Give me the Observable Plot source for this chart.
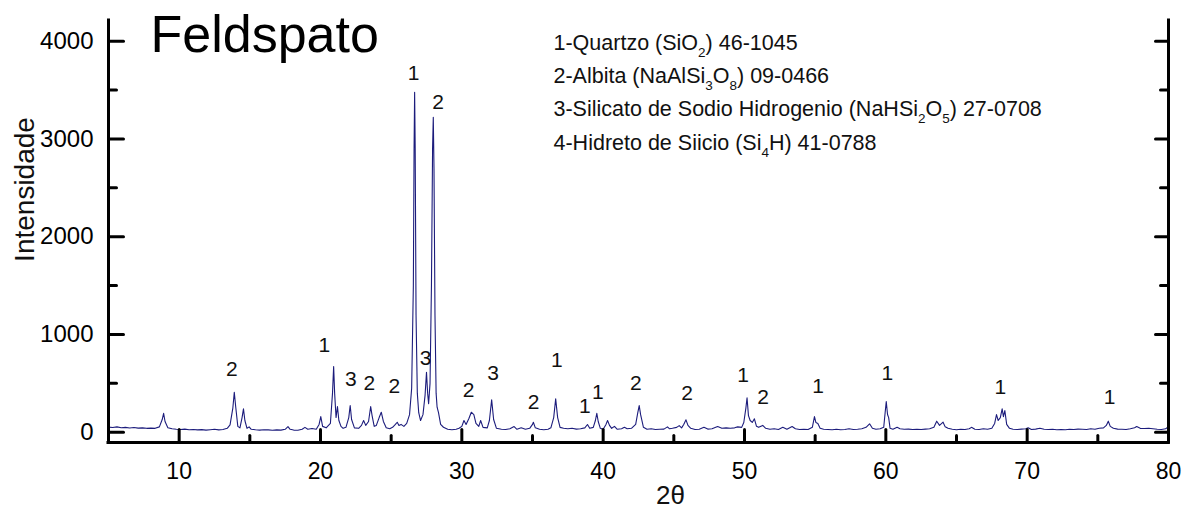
<!DOCTYPE html>
<html><head><meta charset="utf-8">
<script src="https://cdn.jsdelivr.net/npm/d3@7"></script>
<script src="https://cdn.jsdelivr.net/npm/@observablehq/plot@0.6"></script>
<style>html,body{margin:0;padding:0;background:#fff;}#chart svg{display:block;}</style>
</head><body><div id="chart"></div>
<script>
// XRD scan: [2θ, intensity]
const scan = [
[5.0,52],[5.3,48],[5.6,55],[5.9,46],[6.2,50],[6.5,44],[6.8,48],[7.1,42],[7.4,45],[7.7,40],
[8.0,42],[8.3,40],[8.6,55],[8.8,130],[8.9,194],[9.0,110],[9.2,45],[9.5,35],[9.8,30],[10.1,28],
[10.4,32],[10.7,25],[11.0,28],[11.3,24],[11.6,27],[11.9,22],[12.2,26],[12.5,30],[12.8,24],[13.1,28],
[13.4,40],[13.6,75],[13.8,250],[13.9,409],[14.0,260],[14.15,60],[14.3,45],[14.45,150],[14.55,239],[14.65,120],
[14.8,40],[14.95,55],[15.1,30],[15.4,25],[15.7,22],[16.0,26],[16.3,24],[16.6,20],[16.9,24],[17.2,22],
[17.5,30],[17.7,58],[17.85,30],[18.1,22],[18.4,20],[18.7,30],[18.9,50],[19.1,30],[19.4,38],[19.7,30],
[19.9,80],[20.02,160],[20.15,60],[20.4,45],[20.7,90],[20.85,400],[20.93,672],[21.0,400],[21.1,150],[21.2,263],
[21.3,120],[21.45,60],[21.6,40],[21.8,50],[22.0,150],[22.1,273],[22.2,130],[22.4,45],[22.7,40],[22.9,70],
[23.05,120],[23.2,70],[23.4,110],[23.55,263],[23.65,170],[23.8,60],[23.95,70],[24.15,150],[24.3,205],[24.45,110],
[24.65,45],[24.9,35],[25.1,50],[25.3,80],[25.43,102],[25.55,70],[25.7,80],[25.9,60],[26.1,90],[26.3,180],
[26.45,450],[26.57,1500],[26.62,2900],[26.66,3478],[26.7,2900],[26.76,1200],[26.85,400],[26.95,200],[27.08,120],[27.25,180],
[27.4,380],[27.5,614],[27.58,400],[27.65,293],[27.75,500],[27.85,1500],[27.93,2900],[27.98,3222],[28.03,2700],[28.1,1200],
[28.18,400],[28.25,256],[28.35,200],[28.5,80],[28.7,51],[29.0,30],[29.3,25],[29.6,30],[29.8,40],[30.0,60],
[30.15,120],[30.3,80],[30.5,140],[30.67,205],[30.85,180],[31.0,90],[31.2,60],[31.33,120],[31.5,50],[31.8,45],
[31.95,120],[32.11,331],[32.25,130],[32.45,40],[32.8,30],[33.1,28],[33.4,35],[33.7,58],[33.9,30],[34.2,45],
[34.5,30],[34.8,40],[35.0,80],[35.06,102],[35.2,45],[35.5,30],[35.8,25],[36.1,30],[36.3,45],[36.5,150],
[36.64,341],[36.78,150],[36.95,50],[37.2,40],[37.5,35],[37.8,40],[38.1,32],[38.4,36],[38.7,45],[38.89,79],
[39.05,40],[39.3,50],[39.45,120],[39.55,194],[39.65,110],[39.8,40],[40.0,30],[40.2,80],[40.31,120],[40.45,70],
[40.6,40],[40.8,60],[41.0,30],[41.3,35],[41.5,50],[41.7,35],[42.0,40],[42.3,80],[42.45,200],[42.55,273],
[42.65,180],[42.85,50],[43.1,30],[43.4,35],[43.7,28],[44.0,30],[44.3,32],[44.55,55],[44.7,35],[44.9,40],
[45.2,50],[45.38,68],[45.55,45],[45.7,80],[45.86,127],[46.0,70],[46.2,40],[46.5,28],[46.8,30],[47.13,50],
[47.4,32],[47.7,35],[48.1,58],[48.4,40],[48.7,45],[49.0,40],[49.3,45],[49.52,55],[49.8,50],[49.95,100],
[50.1,250],[50.18,352],[50.28,170],[50.4,120],[50.55,100],[50.7,137],[50.85,60],[51.0,50],[51.29,70],[51.5,40],
[51.8,30],[52.1,35],[52.4,28],[52.71,50],[53.0,30],[53.37,58],[53.6,35],[53.9,28],[54.2,30],[54.5,28],
[54.8,50],[54.95,160],[55.05,100],[55.19,90],[55.35,40],[55.6,30],[55.9,28],[56.2,25],[56.5,30],[56.8,26],
[57.1,28],[57.4,35],[57.7,28],[58.0,30],[58.3,35],[58.6,50],[58.85,86],[59.05,40],[59.3,30],[59.6,35],
[59.85,50],[59.95,200],[60.03,314],[60.12,181],[60.2,150],[60.3,40],[60.5,30],[60.8,50],[61.0,35],[61.3,30],
[61.6,32],[61.9,28],[62.2,30],[62.5,28],[62.8,32],[63.1,35],[63.4,50],[63.6,113],[63.8,70],[64.05,103],
[64.2,55],[64.4,40],[64.7,30],[65.0,25],[65.3,30],[65.6,28],[65.9,35],[66.06,50],[66.3,30],[66.6,28],
[66.9,35],[67.2,30],[67.5,40],[67.7,90],[67.83,181],[67.95,120],[68.1,150],[68.23,239],[68.32,160],[68.42,222],
[68.55,80],[68.75,40],[69.0,30],[69.3,28],[69.6,32],[69.9,35],[70.07,45],[70.3,28],[70.6,32],[70.9,40],
[71.2,30],[71.5,28],[71.8,30],[72.1,26],[72.4,28],[72.7,25],[73.0,30],[73.3,28],[73.6,32],[73.9,30],
[74.2,28],[74.5,35],[74.8,30],[75.1,40],[75.4,45],[75.6,70],[75.74,113],[75.88,60],[76.1,40],[76.4,32],
[76.7,30],[77.0,28],[77.3,35],[77.6,45],[77.75,58],[78.0,40],[78.3,38],[78.6,40],[78.9,35],[79.2,30],
[79.5,28],[79.8,35],[80.0,60]
];

// Phase labels above peaks
const peakLabel = ["2","1","3","2","2","1","3","2","2","3","2","1","1","1","2","2","1","2","1","1","1","1"];
const peakTheta = [13.72,20.27,22.15,23.46,25.23,26.58,27.43,28.32,30.48,32.21,35.08,36.72,38.7,39.62,42.31,45.93,49.9,51.31,55.21,60.1,68.11,75.84];
const peakY     = [641,886,539,498,468,3669,754,3378,427,600,304,734,263,406,498,396,580,355,468,600,457,355];

// Axis ticks
const xMajor = [10,20,30,40,50,60,70,80];
const xMinor = [5,15,25,35,45,55,65,75];
const yMajor = [0,1000,2000,3000,4000];
const yMinor = [500,1500,2500,3500];

const title = "Feldspato";
const xLabel = "2θ";
const yLabel = "Intensidade";
const legendLines = [
  "1-Quartzo (SiO_2) 46-1045",
  "2-Albita (NaAlSi_3O_8) 09-0466",
  "3-Silicato de Sodio Hidrogenio (NaHSi_2O_5) 27-0708",
  "4-Hidreto de Siicio (Si_4H) 41-0788"
];

const FONT = "'Liberation Sans', Arial, Helvetica, sans-serif";
const line = {draw(ctx, l) { ctx.moveTo(0, 0); ctx.lineTo(0, -l); }};
const tick = (data, opts) => Plot.vector(data, {anchor: "start", shape: line, stroke: "#000", strokeWidth: 3, ...opts});

const peaks = peakLabel.map((t, i) => ({t, x: peakTheta[i], y: peakY[i]}));

const chart = Plot.plot({
  width: 1193,
  height: 510,
  marginLeft: 108,
  marginRight: 25,
  marginTop: 20,
  marginBottom: 68,
  style: {fontFamily: FONT, color: "#000", background: "#fff", overflow: "visible"},
  x: {domain: [5, 80]},
  y: {domain: [-105, 4212]},
  marks: [
    Plot.line(scan, {x: d => d[0], y: d => d[1], stroke: "#1c1c7c", strokeWidth: 1.1}),
    Plot.ruleX([5, 80], {stroke: "#000", strokeWidth: 3, strokeLinecap: "square"}),
    Plot.ruleY([-105], {stroke: "#000", strokeWidth: 3, strokeLinecap: "square"}),
    tick(xMajor, {x: d => d, frameAnchor: "bottom", rotate: 0, length: 13}),
    tick(xMinor, {x: d => d, frameAnchor: "bottom", rotate: 0, length: 7}),
    tick(yMajor, {y: d => d, frameAnchor: "left", rotate: 90, length: 15}),
    tick(yMinor, {y: d => d, frameAnchor: "left", rotate: 90, length: 8}),
    tick(yMajor, {y: d => d, frameAnchor: "right", rotate: -90, length: 13}),
    tick(yMinor, {y: d => d, frameAnchor: "right", rotate: -90, length: 8}),
    Plot.axisX({ticks: xMajor, tickSize: 0, tickPadding: 20, fontSize: 23, label: null, tickFormat: d => String(d)}),
    Plot.axisY({ticks: yMajor, tickSize: 0, tickPadding: 15, fontSize: 24, label: null, tickFormat: d => String(d)}),
    Plot.text(peaks, {x: "x", y: "y", text: "t", fontSize: 21, fill: "#111", lineAnchor: "middle"}),
    Plot.text([title], {text: d => d, frameAnchor: "top-left", dx: 42, dy: 31.7, lineAnchor: "bottom", textAnchor: "start", fontSize: 52, fill: "#000"}),
    Plot.text([yLabel], {text: d => d, frameAnchor: "left", rotate: -90, dx: -75, dy: -42, lineAnchor: "bottom", textAnchor: "middle", fontSize: 28, fill: "#111"}),
    Plot.text([xLabel], {text: d => d, frameAnchor: "bottom", dx: 32, dy: 61, lineAnchor: "bottom", textAnchor: "middle", fontSize: 26, fill: "#111"}),
    Plot.text([legendLines.join("\n")], {text: d => d, frameAnchor: "top-left", dx: 445, dy: 129, lineAnchor: "bottom", lineHeight: 1.545, textAnchor: "start", fontSize: 21.5, fill: "#111"})
  ]
});

// Turn "_n" markers in the legend into subscripts
const NS = "http://www.w3.org/2000/svg";
chart.querySelectorAll("tspan").forEach(ts => {
  if (!ts.textContent.includes("_")) return;
  const parts = ts.textContent.split(/_(\d)/);
  ts.textContent = "";
  parts.forEach((p, i) => {
    const s = document.createElementNS(NS, "tspan");
    s.textContent = p;
    if (i % 2 === 1) {
      s.setAttribute("font-size", "13.5");
      s.setAttribute("dy", "7");
    } else if (i > 0) {
      s.setAttribute("dy", "-7");
    }
    ts.appendChild(s);
  });
});

document.getElementById("chart").appendChild(chart);
</script></body></html>
